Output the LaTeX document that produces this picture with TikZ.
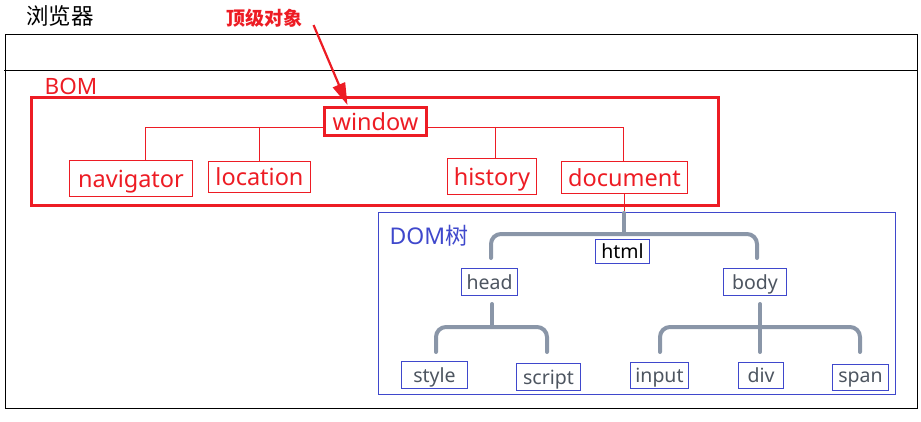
\documentclass[tikz,border=0pt]{standalone}
\usepackage{fontspec}
\setmainfont{Noto Sans}
\newfontfamily\cjk{Noto Sans CJK SC}
\usetikzlibrary{arrows.meta,calc}
\definecolor{bred}{HTML}{ED1C24}
\definecolor{dblue}{HTML}{3F48CC}
\definecolor{tgray}{HTML}{8A96A8}
\definecolor{dtext}{HTML}{4D5560}
\tikzset{
  x=1pt,y=1pt,
  bomnode/.style={draw=bred,line width=1pt,text=bred,font=\fontsize{23.5}{25}\selectfont,inner sep=0pt,anchor=center,text depth=0pt},
  domnode/.style={draw=dblue,line width=1pt,text=dtext,font=\fontsize{19.5}{21}\selectfont,inner sep=0pt,anchor=center,text depth=0pt},
  redline/.style={draw=bred,line width=0.8pt},
  treeline/.style={draw=tgray,line width=4pt,line cap=round,rounded corners=10pt},
}
\begin{document}
\begin{tikzpicture}
\useasboundingbox (0,0) rectangle (921,421);
% browser frame
\draw[line width=1pt] (5,13) rectangle (917,386);
\draw[line width=1pt] (4,350) -- (917,350);
\node[font=\cjk\fontsize{22.5}{24}\selectfont] (browser) at (60,405) {浏览器};
\node[font=\cjk\bfseries\fontsize{19}{21}\selectfont,text=bred] (top) at (264,403) {顶级对象};
% BOM
\node[text=bred,font=\fontsize{22.5}{24}\selectfont] (bomlabel) at (71,335) {BOM};
\draw[bred,line width=3pt] (31,323) rectangle (718,215);
\node[bomnode,line width=3pt,minimum width=102,minimum height=28] (window) at (375.5,299.5) {window};
\node[bomnode,minimum width=123,minimum height=36] (navigator) at (131,242.5) {navigator};
\node[bomnode,minimum width=102,minimum height=31] (location) at (259.5,244) {location};
\node[bomnode,minimum width=89,minimum height=36] (history) at (492,244.5) {history};
\node[bomnode,minimum width=126,minimum height=32] (document) at (624.5,243.5) {document};
\coordinate (wl) at (145,294);
\coordinate (wm) at (259,294);
\coordinate (wh) at (495,294);
\coordinate (wr) at (623,294);
\draw[redline] (window.west|-wl) -- (wl) -- (wl|-navigator.north);
\draw[redline] (wm) -- (wm|-location.north);
\draw[redline] (window.east|-wr) -- (wr) -- (wr|-document.north);
\draw[redline] (wh) -- (wh|-history.north);
\draw[-{Triangle[length=22pt,width=13pt]},bred,line width=2.2pt] (top.east)++(8,-7) coordinate (arrs) -- ($(window.north)+(-28,1)$) coordinate (arre);
% DOM
\draw[dblue,line width=1pt] (378,208) rectangle (895,27);
\node[text=dblue,font=\fontsize{23}{25}\selectfont] (domlabel) at (429,185) {DOM{\cjk 树}};
\node[domnode,text=black,minimum width=54,minimum height=24,font=\fontsize{19.5}{21}\selectfont] (html) at (622.5,169.5) {html};
\node[domnode,minimum width=56,minimum height=27] (head) at (489.5,139) {head};
\node[domnode,minimum width=63,minimum height=27] (body) at (755,139) {body};
\node[domnode,minimum width=66,minimum height=27] (style) at (434.5,46) {style};
\node[domnode,minimum width=64,minimum height=27] (script) at (548.5,44) {script};
\node[domnode,minimum width=58,minimum height=26] (input) at (659.5,45.5) {input};
\node[domnode,minimum width=45,minimum height=26] (div) at (761,45.5) {div};
\node[domnode,minimum width=56,minimum height=26] (span) at (860.5,43.5) {span};
\coordinate (dstem) at (624,210);
\draw[redline] (document.south-|dstem) -- (dstem);
% html bracket
\draw[treeline,rounded corners=0pt] (624,208) -- (624,187);
\draw[treeline] (491,163) -- (491,187) -- (757,187) -- (757,163);
% head bracket
\draw[treeline,rounded corners=0pt] (492,117) -- (492,94);
\draw[treeline] (436,69) -- (436,94) -- (547,94) -- (547,69);
% body bracket
\draw[treeline,rounded corners=0pt] (760,117) -- (760,69);
\draw[treeline] (660,69) -- (660,94) -- (860,94) -- (860,69);
\end{tikzpicture}
\end{document}
